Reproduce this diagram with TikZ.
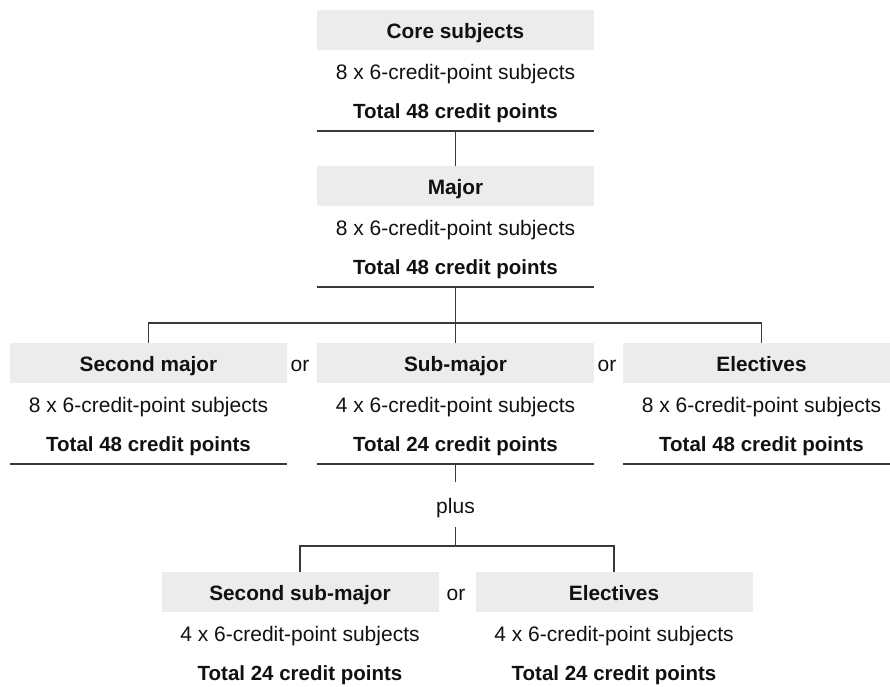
\documentclass[tikz,border=0pt]{standalone}
\usepackage{fontspec}
\setmainfont{Liberation Sans}
\definecolor{hdrgray}{HTML}{ECECEC}
\definecolor{linegray}{HTML}{3A3A3A}
\definecolor{txt}{HTML}{111111}
\begin{document}
\begin{tikzpicture}[x=1pt,y=-1pt,
  every node/.style={font=\fontsize{21}{24}\selectfont, text=txt},
  hdr/.style={fill=hdrgray, minimum width=277pt, minimum height=40pt, inner sep=0pt,
    text height=17pt, text depth=0pt, font=\fontsize{20.8}{24}\selectfont\bfseries},
  sub/.style={anchor=base, inner sep=0pt},
  tot/.style={anchor=base, inner sep=0pt, font=\fontsize{20.5}{24}\selectfont\bfseries},
  conn/.style={draw=linegray, line width=1.2pt},
  uline/.style={draw=linegray, line width=1.2pt},
  ortext/.style={anchor=base, inner sep=0pt}
]
\useasboundingbox (0,0) rectangle (890,686);
\clip (0,0) rectangle (890,686);

% ---------- Core subjects ----------
\node[hdr] (core) at (455.5,30) {Core subjects};
\node[sub] (core-s) at (455.5,79) {8 x 6-credit-point subjects};
\node[tot] (core-t) at (455.5,118.5) {Total 48 credit points};
\coordinate (core-u) at (455.5,131);
\draw[uline] (317,131) -- (594,131);

% ---------- Major ----------
\node[hdr] (major) at (455.5,186) {Major};
\node[sub] (major-s) at (455.5,235) {8 x 6-credit-point subjects};
\node[tot] (major-t) at (455.5,274.5) {Total 48 credit points};
\coordinate (major-u) at (455.5,287);
\draw[uline] (317,287) -- (594,287);

% ---------- Middle row ----------
\node[hdr] (sec) at (148.5,363) {Second major};
\node[sub] (sec-s) at (148.5,412) {8 x 6-credit-point subjects};
\node[tot] (sec-t) at (148.5,451.5) {Total 48 credit points};
\draw[uline] (10,464) -- (287,464);

\node[ortext] (or1) at (300,371.5) {or};

\node[hdr] (submaj) at (455.5,363) {Sub-major};
\node[sub] (submaj-s) at (455.5,412) {4 x 6-credit-point subjects};
\node[tot] (submaj-t) at (455.5,451.5) {Total 24 credit points};
\coordinate (submaj-u) at (455.5,464);
\draw[uline] (317,464) -- (594,464);

\node[ortext] (or2) at (607,371.5) {or};

\node[hdr] (ele) at (761.5,363) {Electives};
\node[sub] (ele-s) at (761.5,412) {8 x 6-credit-point subjects};
\node[tot] (ele-t) at (761.5,451.5) {Total 48 credit points};
\draw[uline] (623,464) -- (900,464);

% ---------- plus ----------
\node[anchor=base, inner sep=0pt, text height=31pt, text depth=14pt] (plus) at (455.5,513) {plus};

% ---------- Bottom row ----------
\node[hdr] (ssm) at (300,592) {Second sub-major};
\node[sub] (ssm-s) at (300,641) {4 x 6-credit-point subjects};
\node[tot] (ssm-t) at (300,680.5) {Total 24 credit points};

\node[ortext] (or3) at (456,600.5) {or};

\node[hdr] (ele2) at (614,592) {Electives};
\node[sub] (ele2-s) at (614,641) {4 x 6-credit-point subjects};
\node[tot] (ele2-t) at (614,680.5) {Total 24 credit points};

% ---------- Connectors ----------
\coordinate (j1) at (455.5,323);
\coordinate (j2) at (455.5,546);
\draw[conn] (core-u) -- (major.north);
\draw[conn] (major-u) -- (submaj.north);
\draw[conn] (sec.north) |- (j1) -| (ele.north);
\draw[conn] (submaj-u) -- (plus.north);
\draw[conn] (plus.south) -- (j2);
\draw[conn] (ssm.north) |- (j2) -| (ele2.north);
\end{tikzpicture}
\end{document}
